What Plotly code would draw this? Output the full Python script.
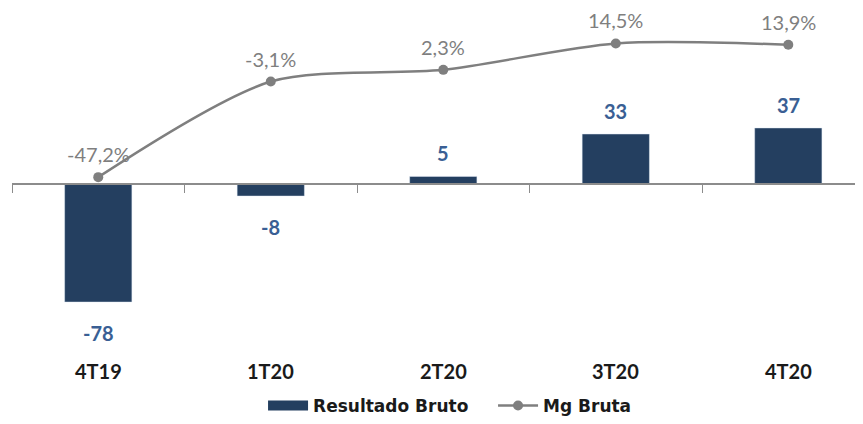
import plotly.graph_objects as go

quarters = ["4T19", "1T20", "2T20", "3T20", "4T20"]
resultado_bruto = [-78, -8, 5, 33, 37]
mg_bruta = [-47.2, -3.1, 2.3, 14.5, 13.9]

FONT = "Lato"
NAVY = "#243F60"
GRAY = "#7F7F7F"
LABEL_BLUE = "#3A5F94"

fig = go.Figure()

fig.add_trace(go.Bar(
    x=quarters, y=resultado_bruto, name="Resultado Bruto",
    marker_color=NAVY, width=0.39, yaxis="y", showlegend=False
))
# legend swatch for the bars (wide rectangle like the original)
fig.add_trace(go.Scatter(
    x=[None], y=[None], name="Resultado Bruto", mode="lines",
    line=dict(color=NAVY, width=10)
))
fig.add_trace(go.Scatter(
    x=quarters, y=mg_bruta, name="Mg Bruta", yaxis="y2",
    mode="lines+markers", line=dict(color=GRAY, width=2.5, shape="spline", smoothing=0.8),
    marker=dict(color=GRAY, size=10)
))

# bar labels
for q, v in zip(quarters, resultado_bruto):
    fig.add_annotation(x=q, y=v, yref="y", text=str(v), showarrow=False,
                       yanchor="middle", yshift=23 if v > 0 else -31,
                       font=dict(family=FONT, size=20, color=LABEL_BLUE, weight="bold"))

# margin labels
for q, v in zip(quarters, mg_bruta):
    fig.add_annotation(x=q, y=v, yref="y2", text=f"{v:.1f}%".replace(".", ","),
                       showarrow=False, yanchor="middle", yshift=23,
                       font=dict(family=FONT, size=20, color=GRAY))

# category labels at the bottom
for q in quarters:
    fig.add_annotation(x=q, y=0.113, yref="paper", text=q, showarrow=False,
                       yanchor="middle",
                       font=dict(family=FONT, size=20, color="#1A1A1A", weight="bold"))

y_range = [-153.9, 116.2]
zero_pos = (0 - y_range[0]) / (y_range[1] - y_range[0])

fig.update_layout(
    width=855, height=416,
    margin=dict(l=4, r=0, t=0, b=0),
    plot_bgcolor="white", paper_bgcolor="white",
    font=dict(family=FONT),
    xaxis=dict(type="category", range=[-0.5, 4.433], anchor="free", position=zero_pos,
               showline=True, linecolor="#8C8C8C", linewidth=1.5,
               ticks="outside", tickson="boundaries", ticklen=8, tickcolor="#8C8C8C",
               showticklabels=False, showgrid=False, zeroline=False),
    yaxis=dict(range=y_range, visible=False, showgrid=False, zeroline=False),
    yaxis2=dict(range=[-157.9, 30.85], overlaying="y", visible=False,
                showgrid=False, zeroline=False),
    legend=dict(orientation="h", x=0.295, xanchor="left", y=0.0265, yanchor="middle",
                font=dict(family="DejaVu Sans", size=17, color="#1A1A1A", weight="bold"),
                itemwidth=40, entrywidth=175, entrywidthmode="pixels"),
    showlegend=True,
)

fig.write_html("out.html")
